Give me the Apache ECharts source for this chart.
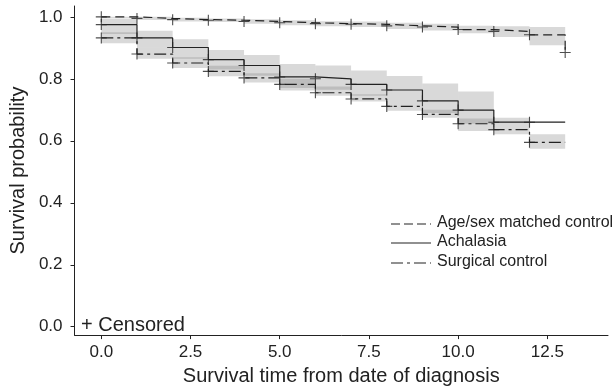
<!DOCTYPE html>
<html>
<head>
<meta charset="utf-8">
<script src="https://cdn.jsdelivr.net/npm/echarts@6/dist/echarts.min.js"></script>
<style>
  html, body { margin: 0; padding: 0; background: #fff; }
  #chart { width: 615px; height: 391px; }
</style>
</head>
<body>
<div id="chart"></div>
<script>
// follow-up years (start of each interval)
const years = [0, 1, 2, 3, 4, 5, 6, 7, 8, 9, 10, 11, 12];
const endYear = 13;

// survival estimates, one per interval
const ageSexSurv = [1.000, 0.995, 0.991, 0.989, 0.985, 0.981, 0.978, 0.976, 0.971, 0.967, 0.959, 0.953, 0.942];
const ageSexLast = 0.885;
const achalasiaSurv = [0.975, 0.932, 0.901, 0.862, 0.843, 0.806, 0.800, 0.782, 0.764, 0.729, 0.699, 0.660, 0.660];
const surgicalSurv = [0.932, 0.880, 0.851, 0.824, 0.803, 0.782, 0.755, 0.735, 0.711, 0.685, 0.655, 0.636, 0.595];

// confidence bands
const ageSexLo = [0.996, 0.990, 0.985, 0.983, 0.978, 0.973, 0.970, 0.967, 0.961, 0.956, 0.947, 0.935, 0.908];
const ageSexHi = [1.000, 1.000, 0.997, 0.995, 0.992, 0.989, 0.986, 0.985, 0.981, 0.978, 0.971, 0.970, 0.967];
const achalasiaLo = [0.945, 0.900, 0.865, 0.830, 0.810, 0.770, 0.765, 0.745, 0.725, 0.690, 0.655];
const achalasiaHi = [0.995, 0.955, 0.928, 0.893, 0.877, 0.848, 0.843, 0.827, 0.809, 0.785, 0.759];
const surgicalLo = [0.915, 0.865, 0.835, 0.808, 0.788, 0.762, 0.745, 0.727, 0.697, 0.674, 0.632, 0.621, 0.574];
const surgicalHi = [0.950, 0.900, 0.870, 0.842, 0.818, 0.800, 0.775, 0.750, 0.725, 0.700, 0.672, 0.674, 0.621];

const xTicks = [0, 2.5, 5, 7.5, 10, 12.5];
const yTicks = [0, 0.2, 0.4, 0.6, 0.8, 1.0];

const ink = '#222';
const plus = 'path://M0,4.5 H10 V5.5 H0 Z M4.5,0 H5.5 V10 H4.5 Z';

function stepData(vals, last) {
  const d = vals.map((v, i) => [years[i], v]);
  d.push([endYear, vals[vals.length - 1]]);
  if (last !== undefined) d.push([endYear, last]);
  return d;
}
function bandData(lo, hi) {
  return lo.map((l, i) => [years[i], years[i] + 1, l, hi[i]]);
}
function censorData(vals, last) {
  const d = vals.map((v, i) => [years[i], v]);
  if (last !== undefined) d.push([endYear, last]);
  return d;
}

function bandSeries(lo, hi) {
  return {
    type: 'custom',
    data: bandData(lo, hi),
    encode: { x: [0, 1], y: [2, 3] },
    z: 1,
    silent: true,
    renderItem: function (params, api) {
      const p0 = api.coord([api.value(0), api.value(3)]);
      const p1 = api.coord([api.value(1), api.value(2)]);
      return {
        type: 'rect',
        shape: { x: p0[0], y: p0[1], width: p1[0] - p0[0], height: p1[1] - p0[1] },
        style: { fill: 'rgba(120,120,120,0.28)' }
      };
    }
  };
}
function lineSeries(name, data, dash) {
  return {
    name: name, type: 'line', step: 'end', data: data,
    symbol: 'none', z: 3,
    lineStyle: { color: ink, width: 1.2, type: dash }
  };
}
function censorSeries(data) {
  return {
    type: 'scatter', data: data, symbol: plus, symbolSize: 11, z: 4,
    itemStyle: { color: ink }, silent: true
  };
}

const chart = echarts.init(document.getElementById('chart'), null, { renderer: 'canvas' });

const labelFont = { fontFamily: 'Liberation Sans', color: ink };

chart.setOption({
  animation: false,
  backgroundColor: '#fff',
  grid: { left: 73, right: 7, top: 6, bottom: 50 },
  xAxis: {
    type: 'value', min: -0.75, max: 14.2,
    axisLine: { show: true, onZero: false, lineStyle: { color: ink, width: 1 } },
    axisTick: { show: true, length: 4, customValues: xTicks, lineStyle: { color: ink } },
    axisLabel: Object.assign({ customValues: xTicks, fontSize: 17, margin: 9,
      formatter: v => v.toFixed(1) }, labelFont),
    splitLine: { show: false },
    name: 'Survival time from date of diagnosis',
    nameLocation: 'middle', nameGap: 30,
    nameTextStyle: Object.assign({ fontSize: 20 }, labelFont)
  },
  yAxis: {
    type: 'value', min: -0.027, max: 1.035,
    axisLine: { show: true, onZero: false, lineStyle: { color: ink, width: 1 } },
    axisTick: { show: true, length: 4, customValues: yTicks, lineStyle: { color: ink } },
    axisLabel: Object.assign({ customValues: yTicks, fontSize: 17, margin: 12,
      formatter: v => v.toFixed(1) }, labelFont),
    splitLine: { show: false },
    name: 'Survival probability',
    nameLocation: 'middle', nameGap: 36,
    nameTextStyle: Object.assign({ fontSize: 20 }, labelFont)
  },
  series: [
    bandSeries(ageSexLo, ageSexHi),
    bandSeries(achalasiaLo, achalasiaHi),
    bandSeries(surgicalLo, surgicalHi),
    lineSeries('Age/sex matched control', stepData(ageSexSurv, ageSexLast), [9, 5]),
    lineSeries('Achalasia', stepData(achalasiaSurv), 'solid'),
    lineSeries('Surgical control', stepData(surgicalSurv), [12, 4, 3, 4]),
    censorSeries(censorData(ageSexSurv, ageSexLast)),
    censorSeries(censorData(achalasiaSurv)),
    censorSeries(censorData(surgicalSurv))
  ],
  graphic: [
    { type: 'line', shape: { x1: 391, y1: 224, x2: 431, y2: 224 },
      style: { stroke: ink, lineWidth: 1.2, lineDash: [9, 4] } },
    { type: 'line', shape: { x1: 391, y1: 243, x2: 431, y2: 243 },
      style: { stroke: ink, lineWidth: 1.2 } },
    { type: 'line', shape: { x1: 391, y1: 263, x2: 431, y2: 263 },
      style: { stroke: ink, lineWidth: 1.2, lineDash: [12, 4, 3, 4] } },
    { type: 'text', left: 437, top: 215,
      style: { text: 'Age/sex matched control', fontSize: 16, fontFamily: 'Liberation Sans', fill: ink } },
    { type: 'text', left: 437, top: 234,
      style: { text: 'Achalasia', fontSize: 16, fontFamily: 'Liberation Sans', fill: ink } },
    { type: 'text', left: 437, top: 254,
      style: { text: 'Surgical control', fontSize: 16, fontFamily: 'Liberation Sans', fill: ink } },
    { type: 'text', left: 81, top: 315,
      style: { text: '+ Censored', fontSize: 20, fontFamily: 'Liberation Sans', fill: ink } }
  ]
});
</script>
</body>
</html>
